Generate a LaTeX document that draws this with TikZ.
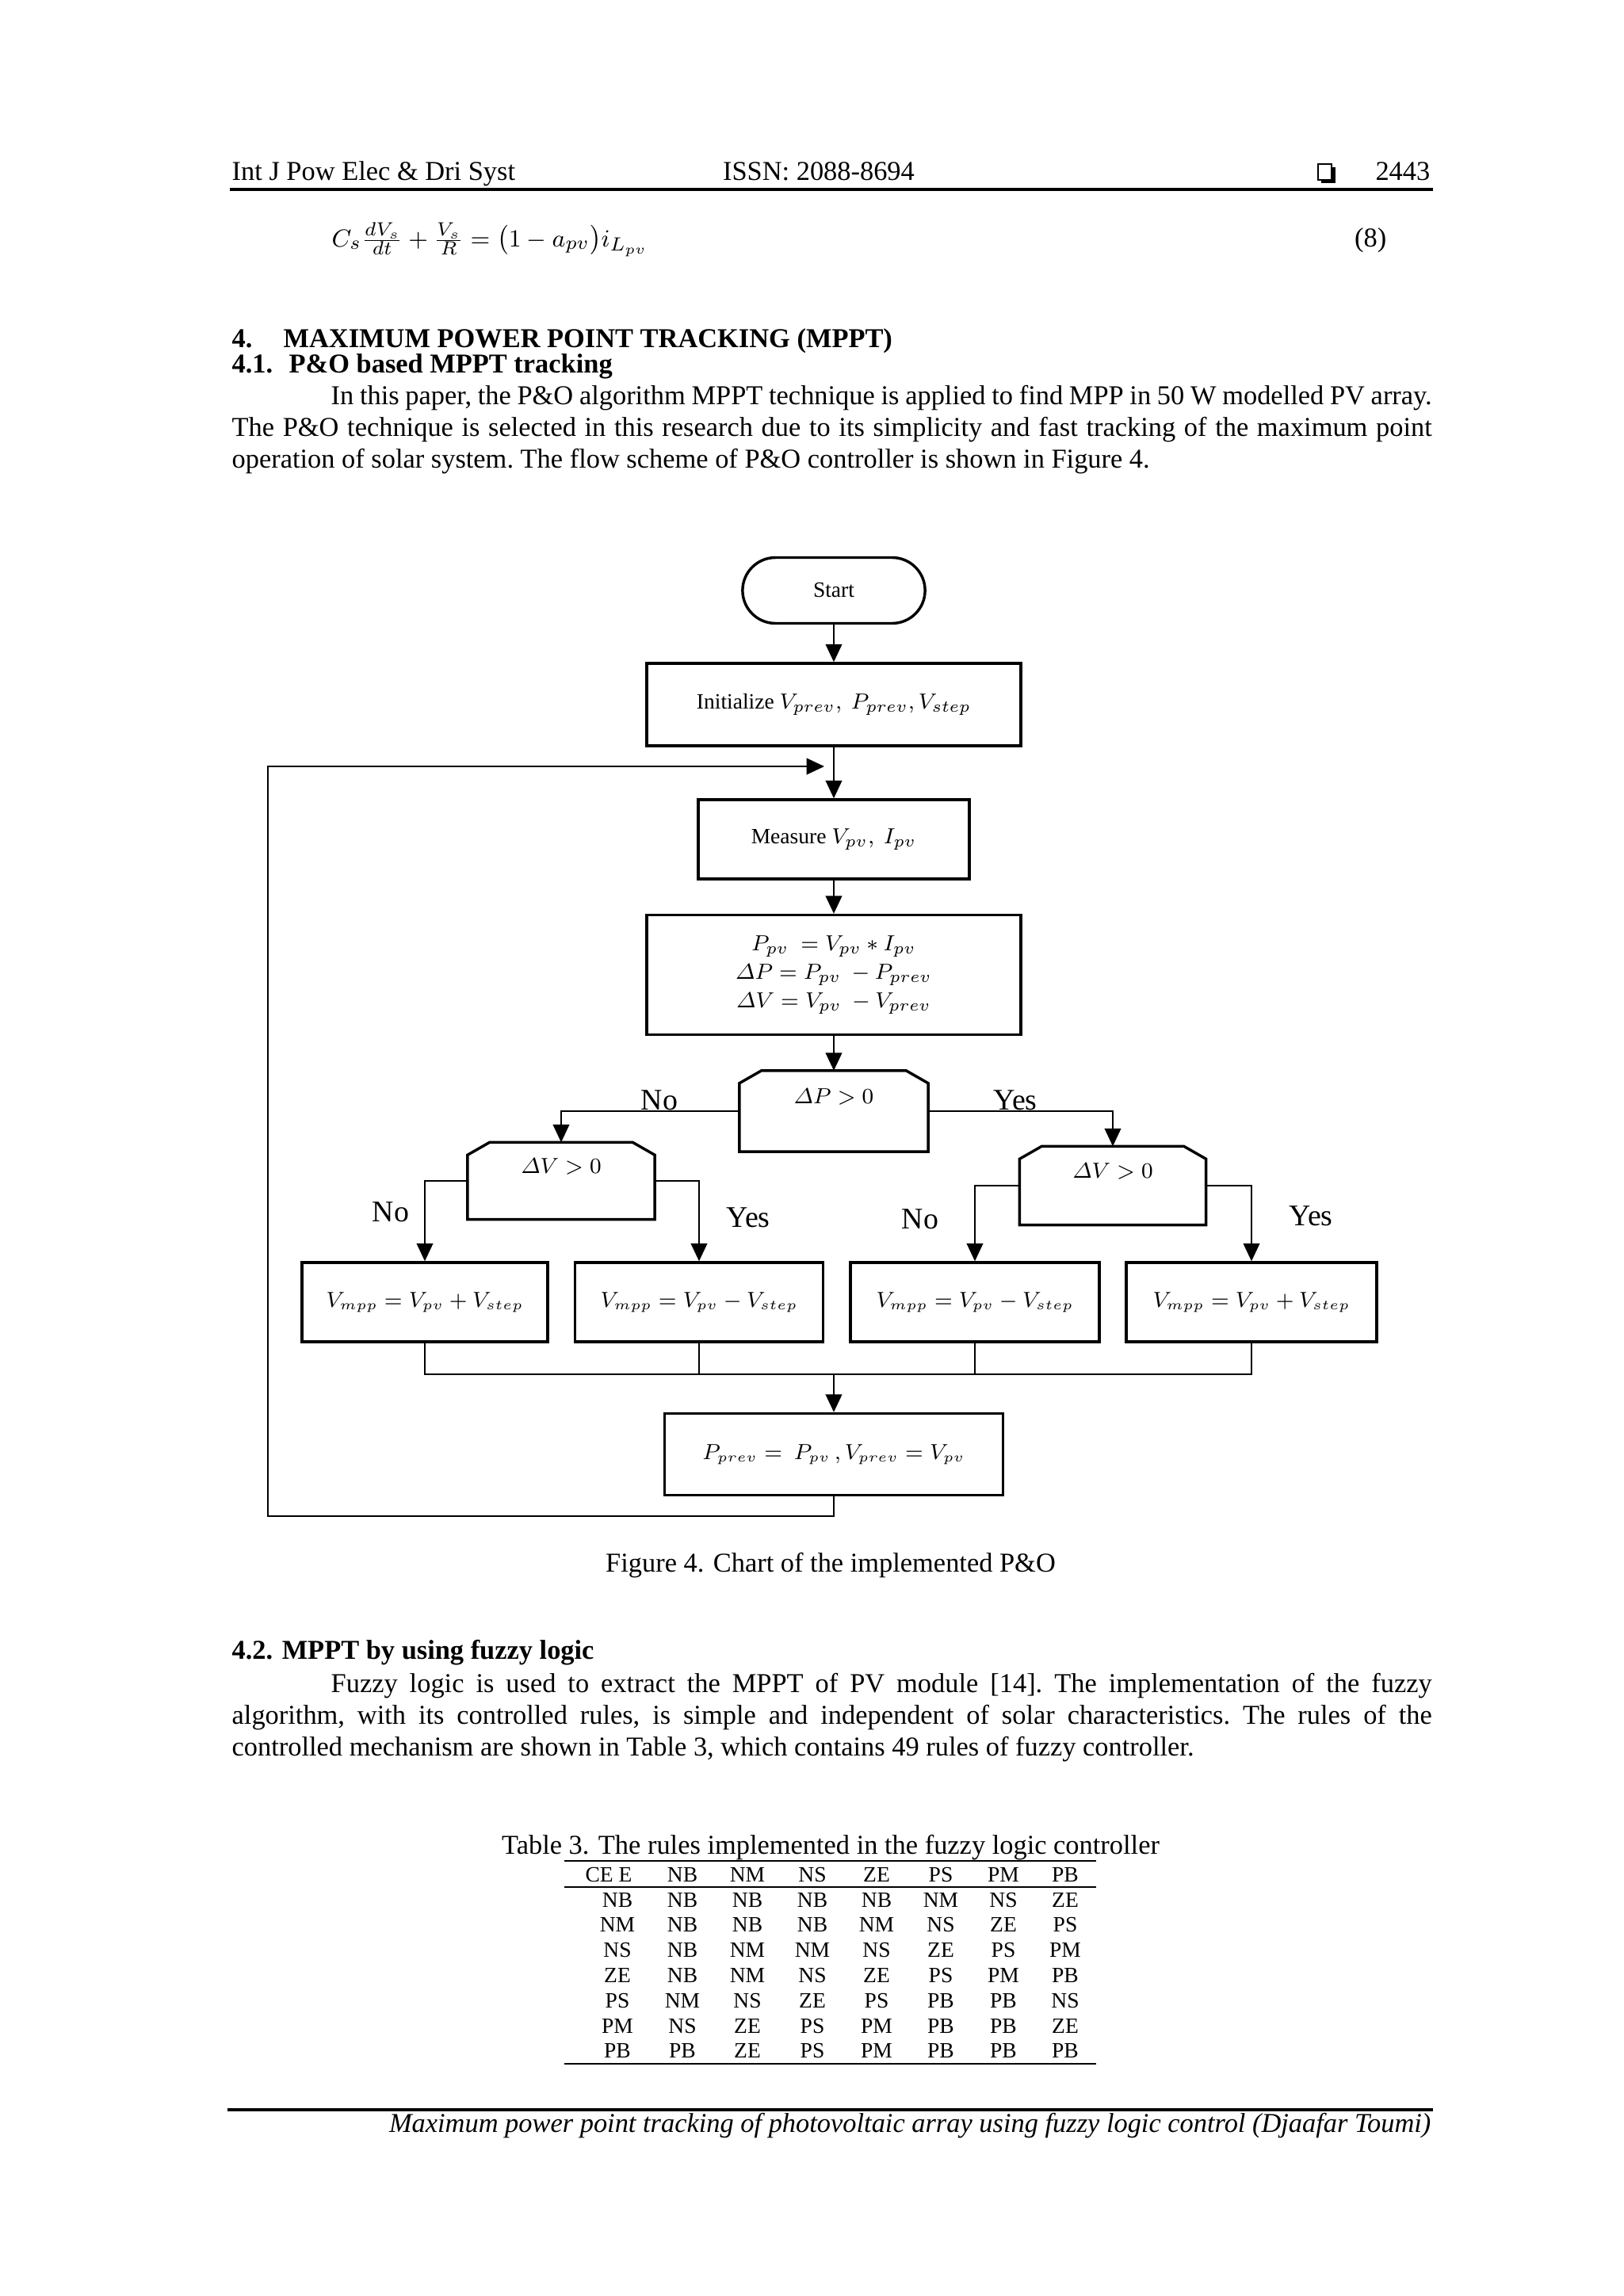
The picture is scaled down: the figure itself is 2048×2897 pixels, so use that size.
\documentclass[tikz,border=0pt]{standalone}
\usepackage{amsmath}
\usepackage{fontspec}
\setmainfont{Liberation Serif}
\usetikzlibrary{arrows.meta,shapes.misc,calc}
\newlength\pxu
\setlength\pxu{0.29066pt}

\begin{document}
\begin{tikzpicture}[
  x=\pxu,y=-\pxu,
  >={Triangle[length=6.5pt,width=6pt]},
  txt/.style={inner sep=0pt,anchor=base west,font=\fontsize{10}{11.6}\selectfont},
  para/.style={inner sep=0pt,anchor=north west,text width=1514\pxu,align=justify,
    font=\fontsize{10}{11.6}\selectfont\frenchspacing},
  fcnode/.style={inner sep=2pt,align=center,font=\fontsize{8}{10.5}\selectfont},
  box/.style={fcnode,draw,line width=1pt},
  term/.style={box,rounded rectangle},
  test/.style={fcnode,text depth=11pt},
  outbox/.style={box,minimum height=100\pxu,font=\fontsize{7.8}{10}\selectfont},
  link/.style={line width=.5pt},
  arr/.style={link,->},
  yesno/.style={inner sep=0pt,font=\fontsize{11}{12}\selectfont},
  cell/.style={inner sep=0pt,anchor=base,font=\fontsize{8}{9}\selectfont}
]
\path[use as bounding box,fill=white] (0,0) rectangle (2048,2897);

% page header
\node[txt] (hdl) at (292,227) {Int J Pow Elec \& Dri Syst};
\node[txt,anchor=base] (hdc) at (1033,227) {ISSN: 2088-8694};
\node[txt,anchor=base east] (hdr) at (1805,227) {2443};
\draw[line width=.6pt] (1663,207) rectangle (1680,227);
\fill (1680,211) rectangle (1685,231);
\fill (1667,227) rectangle (1685,231);
\draw[line width=1.1pt] (290,239) -- (1808,239);

% equation (8)
\node[txt,font=\fontsize{9.5}{11.6}\selectfont] (eqn) at (418,311)
  {$C_s\frac{dV_s}{dt}+\frac{V_s}{R}=\bigl(1-a_{pv}\bigr)i_{L_{pv}}$};
\node[txt,anchor=base east] (eqno) at (1750,311) {(8)};

% section 4
\node[txt,font=\fontsize{10}{11.6}\selectfont\bfseries] (sec4) at (292,438)
  {\makebox[65\pxu][l]{4.}MAXIMUM POWER POINT TRACKING (MPPT)};
\node[txt,font=\fontsize{10}{11.6}\selectfont\bfseries] (sec41) at (292,470)
  {\makebox[72\pxu][l]{4.1.}P\&O based MPPT tracking};
\node[para] (par1) at (292,482) {\strut\hspace*{125\pxu}In this paper, the P\&O algorithm MPPT technique is applied to find MPP in 50 W modelled PV array.\linebreak
  The P\&O technique is selected in this research due to its simplicity and fast tracking of the maximum point\linebreak
  operation of solar system. The flow scheme of P\&O controller is shown in Figure 4.};

% flowchart
\node[term,minimum width=244\pxu,minimum height=83\pxu] (start) at (1052,745) {Start};
\node[box,minimum width=472\pxu,minimum height=104\pxu] (init) at (1052,889)
  {Initialize $V_{prev},\ P_{prev}, V_{step}$};
\node[box,minimum width=342\pxu,minimum height=100\pxu] (meas) at (1052,1059)
  {Measure $V_{pv},\ I_{pv}$};
\node[box,minimum width=472\pxu,minimum height=151\pxu] (comp) at (1052,1230)
  {$P_{pv}\ =V_{pv}\ast I_{pv}$\\ $\varDelta P=P_{pv}\ -P_{prev}$\\ $\varDelta V=V_{pv}\ -V_{prev}$};
\node[test,minimum width=237\pxu,minimum height=101\pxu] (dP) at (1052,1402) {$\varDelta P>0$};
\node[test,minimum width=235\pxu,minimum height=96\pxu] (lV) at (708,1490) {$\varDelta V>0$};
\node[test,minimum width=234\pxu,minimum height=98\pxu] (rV) at (1404,1496) {$\varDelta V>0$};
\foreach \n in {dP,lV,rV}
  \draw[line width=1pt] (\n.south west) -- ($(\n.north west)+(0,16)$) -- ($(\n.north west)+(28,0)$)
    -- ($(\n.north east)+(-28,0)$) -- ($(\n.north east)+(0,16)$) -- (\n.south east) -- cycle;
\node[outbox,minimum width=310\pxu] (o1) at (536,1643) {$V_{mpp}=V_{pv}+V_{step}$};
\node[outbox,minimum width=313\pxu] (o2) at (882,1643) {$V_{mpp}=V_{pv}-V_{step}$};
\node[outbox,minimum width=314\pxu] (o3) at (1230,1643) {$V_{mpp}=V_{pv}-V_{step}$};
\node[outbox,minimum width=316\pxu] (o4) at (1579,1643) {$V_{mpp}=V_{pv}+V_{step}$};
\node[outbox,minimum width=427\pxu,minimum height=103\pxu] (fin) at (1052,1835)
  {$P_{prev}=\ P_{pv}\,,V_{prev}=V_{pv}$};
\coordinate (mg) at (1052,1734);
\coordinate (fbk) at (338,1913);
\coordinate (fbin) at (1040,967);

\node[yesno] (no1) at (832,1388) {No};
\node[yesno] (yes1) at (1281,1388) {Yes};
\node[yesno] (no2) at (493,1529) {No};
\node[yesno] (yes2) at (944,1536) {Yes};
\node[yesno] (no3) at (1161,1538) {No};
\node[yesno] (yes3) at (1654,1534) {Yes};

\draw[arr] (start) -- (init);
\draw[arr] (init) -- (meas);
\draw[arr] (meas) -- (comp);
\draw[arr] (comp) -- (dP);
\draw[arr] (dP.west) -| (lV.north);
\draw[arr] (dP.east) -| (rV.north);
\draw[arr] (lV.west) -| (o1.north);
\draw[arr] (lV.east) -| (o2.north);
\draw[arr] (rV.west) -| (o3.north);
\draw[arr] (rV.east) -| (o4.north);
\draw[link] (o1.south) |- (mg) -| (o4.south);
\draw[link] (o2.south) -- (o2.south |- mg);
\draw[link] (o3.south) -- (o3.south |- mg);
\draw[arr] (mg) -- (fin.north);
\draw[arr] (fin.south) |- (fbk) |- (fbin);

\node[txt,anchor=base] (fcap) at (1048,1983) {Figure 4. Chart of the implemented P\&O};

% section 4.2
\node[txt,font=\fontsize{10}{11.6}\selectfont\bfseries] (sec42) at (292,2093) {4.2. MPPT by using fuzzy logic};
\node[para] (par2) at (292,2107) {\strut\hspace*{125\pxu}Fuzzy logic is used to extract the MPPT of PV module [14]. The implementation of the fuzzy\linebreak
  algorithm, with its controlled rules, is simple and independent of solar characteristics. The rules of the\linebreak
  controlled mechanism are shown in Table 3, which contains 49 rules of fuzzy controller.};

% table 3
\node[txt,anchor=base] (tcap) at (1048,2339) {Table 3. The rules implemented in the fuzzy logic controller};
\draw[line width=.6pt] (712,2348) -- (1383,2348);
\draw[line width=.6pt] (712,2381) -- (1383,2381);
\draw[line width=.6pt] (712,2604) -- (1383,2604);
\node[cell] (h-1) at (768,2374) {CE E};
\foreach \h [count=\c from 2] in {NB,NM,NS,ZE,PS,PM,PB} {
  \pgfmathsetmacro\cx{{779,861,943,1025,1106,1187,1266,1344}[\c-1]}
  \node[cell] (h-\c) at (\cx,2374) {\h};
}
\foreach \row [count=\r] in {{NB,NB,NB,NB,NB,NM,NS,ZE},{NM,NB,NB,NB,NM,NS,ZE,PS},
    {NS,NB,NM,NM,NS,ZE,PS,PM},{ZE,NB,NM,NS,ZE,PS,PM,PB},{PS,NM,NS,ZE,PS,PB,PB,NS},
    {PM,NS,ZE,PS,PM,PB,PB,ZE},{PB,PB,ZE,PS,PM,PB,PB,PB}} {
  \foreach \v [count=\c] in \row {
    \pgfmathsetmacro\cx{{779,861,943,1025,1106,1187,1266,1344}[\c-1]}
    \pgfmathsetmacro\cy{2406+31.8*(\r-1)}
    \node[cell] (c-\r-\c) at (\cx,\cy) {\v};
  }
}

% page footer
\draw[line width=1.2pt] (287,2662) -- (1808,2662);
\node[txt,anchor=base east,font=\fontsize{10}{11.6}\selectfont\itshape] (ftr) at (1806,2690)
  {Maximum power point tracking of photovoltaic array using fuzzy logic control (Djaafar Toumi)};
\end{tikzpicture}
\end{document}
